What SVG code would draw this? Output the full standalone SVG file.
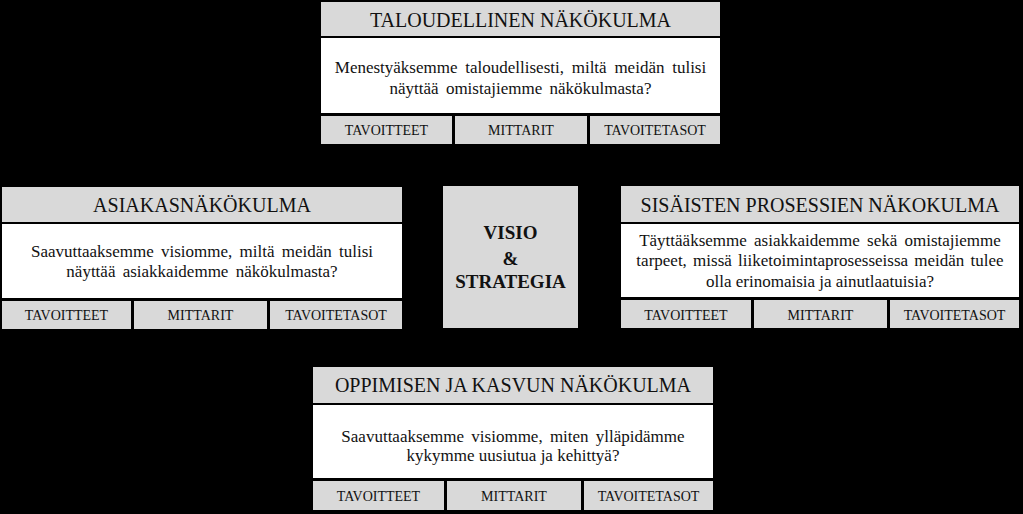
<svg xmlns="http://www.w3.org/2000/svg" width="1023" height="514" viewBox="0 0 1023 514">
<style>
.g{fill:#d9d9d9}
.w{fill:#ffffff}
text{font-family:"Liberation Serif","Times New Roman",serif;fill:#111;text-anchor:middle}
.h{font-size:20px}
.b{font-size:17px}
.l{font-size:14px}
.c{font-size:19px;font-weight:bold}
</style>
<rect x="0" y="0" width="1023" height="514" fill="#000"/>
<g id="taloudellinen">
<rect class="g" x="321" y="2" width="399" height="34"/>
<rect class="w" x="321" y="38" width="399" height="75"/>
<rect class="g" x="321" y="116" width="131" height="28"/>
<rect class="g" x="455" y="116" width="132" height="28"/>
<rect class="g" x="590" y="116" width="130" height="28"/>
<text class="h" x="520.5" y="27">TALOUDELLINEN NÄKÖKULMA</text>
<text class="b" x="520.5" y="73" word-spacing="3.5">Menestyäksemme taloudellisesti, miltä meidän tulisi</text>
<text class="b" x="520.5" y="94" word-spacing="3">näyttää omistajiemme näkökulmasta?</text>
<text class="l" x="386.5" y="135">TAVOITTEET</text>
<text class="l" x="521" y="135">MITTARIT</text>
<text class="l" x="655" y="135">TAVOITETASOT</text>
</g>
<g id="asiakas">
<rect class="g" x="2" y="187" width="400" height="35"/>
<rect class="w" x="2" y="224" width="400" height="74"/>
<rect class="g" x="2" y="301" width="129" height="28"/>
<rect class="g" x="134" y="301" width="133" height="28"/>
<rect class="g" x="270" y="301" width="132" height="28"/>
<text class="h" x="202" y="212">ASIAKASNÄKÖKULMA</text>
<text class="b" x="202" y="257" word-spacing="3">Saavuttaaksemme visiomme, miltä meidän tulisi</text>
<text class="b" x="202" y="277" word-spacing="3">näyttää asiakkaidemme näkökulmasta?</text>
<text class="l" x="66.5" y="320">TAVOITTEET</text>
<text class="l" x="200.5" y="320">MITTARIT</text>
<text class="l" x="336" y="320">TAVOITETASOT</text>
</g>
<g id="visio">
<rect class="g" x="443" y="186" width="135" height="142"/>
<text class="c" x="510.5" y="239">VISIO</text>
<text class="c" x="510.5" y="265">&amp;</text>
<text class="c" x="510.5" y="288">STRATEGIA</text>
</g>
<g id="prosessit">
<rect class="g" x="621" y="186" width="398" height="36"/>
<rect class="w" x="621" y="224" width="398" height="73"/>
<rect class="g" x="621" y="300" width="130" height="28"/>
<rect class="g" x="754" y="300" width="133" height="28"/>
<rect class="g" x="890" y="300" width="129" height="28"/>
<text class="h" x="820" y="212">SISÄISTEN PROSESSIEN NÄKOKULMA</text>
<text class="b" x="820" y="246" word-spacing="3">Täyttääksemme asiakkaidemme sekä omistajiemme</text>
<text class="b" x="820" y="266" word-spacing="2">tarpeet, missä liiketoimintaprosesseissa meidän tulee</text>
<text class="b" x="820" y="287">olla erinomaisia ja ainutlaatuisia?</text>
<text class="l" x="686" y="320">TAVOITTEET</text>
<text class="l" x="820.5" y="320">MITTARIT</text>
<text class="l" x="954.5" y="320">TAVOITETASOT</text>
</g>
<g id="oppiminen">
<rect class="g" x="313" y="367" width="400" height="36"/>
<rect class="w" x="313" y="405" width="400" height="73"/>
<rect class="g" x="313" y="481" width="131" height="29"/>
<rect class="g" x="447" y="481" width="134" height="29"/>
<rect class="g" x="584" y="481" width="129" height="29"/>
<text class="h" x="513" y="392">OPPIMISEN JA KASVUN NÄKÖKULMA</text>
<text class="b" x="513" y="442" word-spacing="3">Saavuttaaksemme visiomme, miten ylläpidämme</text>
<text class="b" x="513" y="461">kykymme uusiutua ja kehittyä?</text>
<text class="l" x="378.5" y="501">TAVOITTEET</text>
<text class="l" x="514" y="501">MITTARIT</text>
<text class="l" x="648.5" y="501">TAVOITETASOT</text>
</g>
<g id="connectors"></g>
</svg>
